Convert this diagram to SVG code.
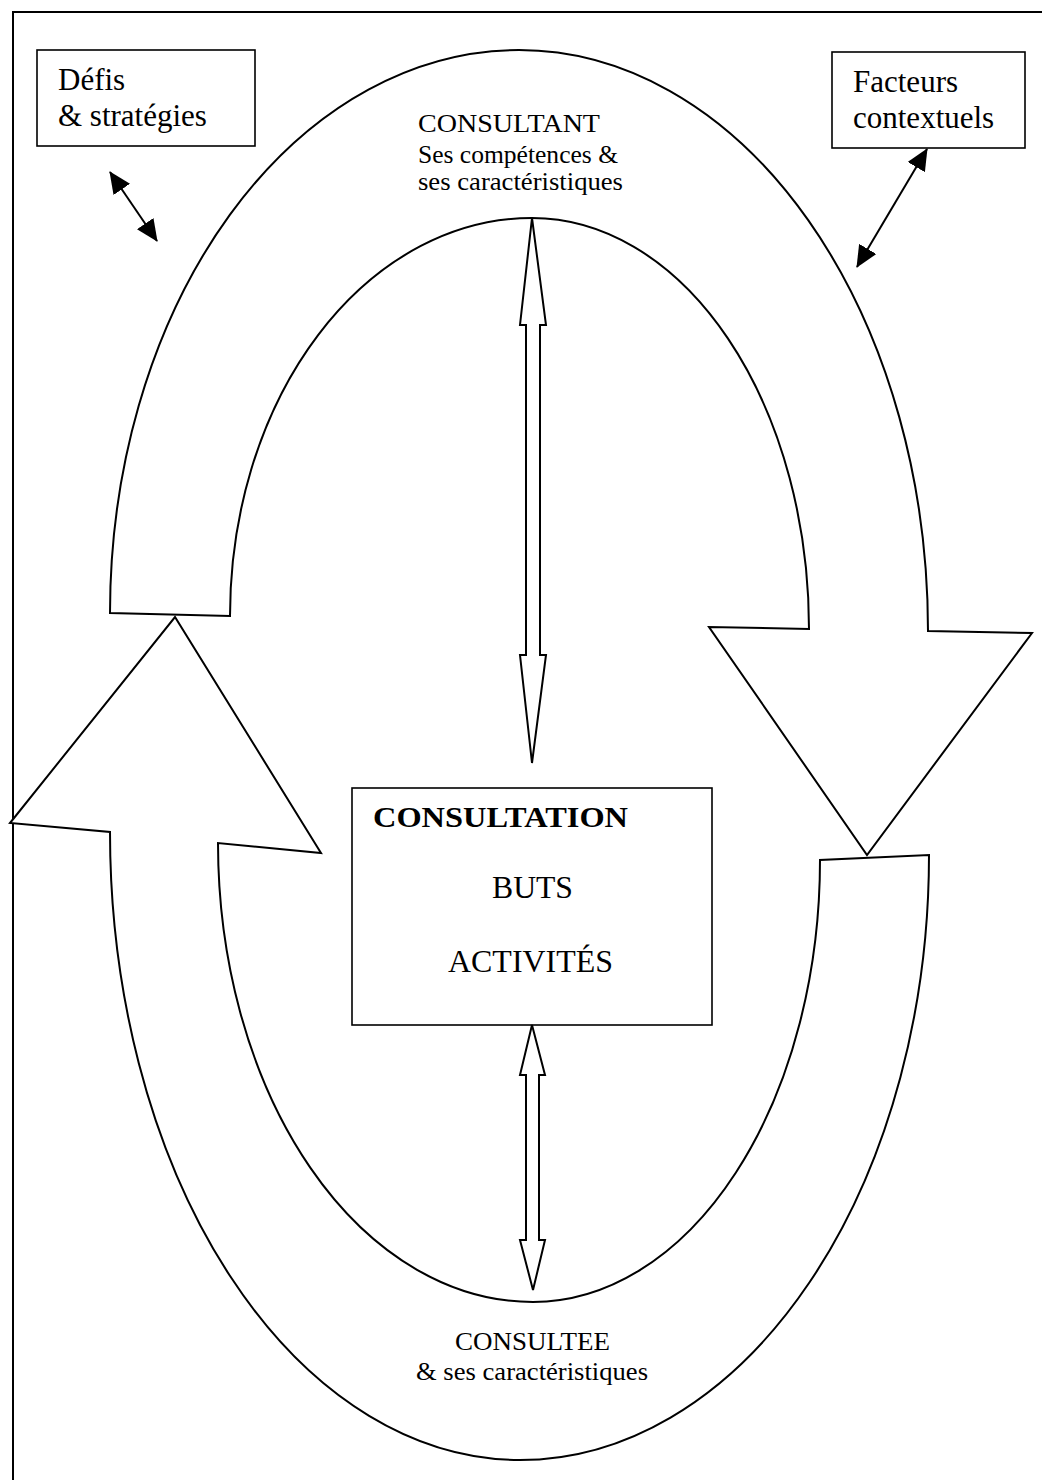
<svg xmlns="http://www.w3.org/2000/svg" width="1042" height="1480" viewBox="0 0 1042 1480">
  <style>
    .shape { fill: #ffffff; stroke: #000000; stroke-width: 2; stroke-linejoin: miter; }
    .box { fill: #ffffff; stroke: #000000; stroke-width: 1.6; }
    .t { font-family: "Liberation Serif", "Times New Roman", serif; fill: #000000; }
    .lbl { font-size: 31px; }
    .mid { font-size: 25px; }
    .ctr { font-size: 31px; }
    .link { stroke: #000000; stroke-width: 2; fill: none; }
    .hollow { fill: #ffffff; stroke: #000000; stroke-width: 2; stroke-linejoin: miter; }
  </style>
  <defs>
    <marker id="head" viewBox="0 0 22 20" refX="21" refY="10" markerWidth="22" markerHeight="20" markerUnits="userSpaceOnUse" orient="auto-start-reverse">
      <path d="M0,0 L22,10 L0,20 Z" fill="#000000"/>
    </marker>
  </defs>

  <rect x="0" y="0" width="1042" height="1480" fill="#ffffff"/>

  <!-- page frame -->
  <path d="M13,1480 V12 H1042" fill="none" stroke="#000000" stroke-width="2"/>

  <!-- top curved arrow: consultant -->
  <g id="consultant">
    <path class="shape" d="M110,613 A409,563 0 0 1 519,50 A409,581 0 0 1 928,631 L1032,633 L867,855 L709,627 L809,629 A277,411 0 0 0 532,218 A302,398 0 0 0 230,616 Z"/>
    <text class="t mid" x="418" y="132" textLength="182" lengthAdjust="spacingAndGlyphs">CONSULTANT</text>
    <text class="t mid" x="418" y="163" textLength="200" lengthAdjust="spacingAndGlyphs">Ses compétences &amp;</text>
    <text class="t mid" x="418" y="190" textLength="205" lengthAdjust="spacingAndGlyphs">ses caractéristiques</text>
  </g>

  <!-- bottom curved arrow: consultee -->
  <g id="consultee">
    <path class="shape" d="M929,855 A409,605 0 0 1 520,1460 A410,628 0 0 1 110,832 L10,823 L175,617 L321,853 L218,843 A315,459 0 0 0 533,1302 A287,442 0 0 0 820,860 Z"/>
    <text class="t" font-size="26" x="455" y="1350" textLength="155" lengthAdjust="spacingAndGlyphs">CONSULTEE</text>
    <text class="t" font-size="26" x="416" y="1380" textLength="232" lengthAdjust="spacingAndGlyphs">&amp; ses caractéristiques</text>
  </g>

  <!-- Défis & stratégies -->
  <g id="defis">
    <rect class="box" x="37" y="50" width="218" height="96"/>
    <text class="t lbl" x="58" y="90">Défis</text>
    <text class="t lbl" x="58" y="126">&amp; stratégies</text>
  </g>

  <!-- Facteurs contextuels -->
  <g id="facteurs">
    <rect class="box" x="832" y="52" width="193" height="96"/>
    <text class="t lbl" x="853" y="92">Facteurs</text>
    <text class="t lbl" x="853" y="128">contextuels</text>
  </g>

  <!-- Consultation box -->
  <g id="consultation">
    <rect class="box" x="352" y="788" width="360" height="237" stroke-width="2"/>
    <text class="t" font-size="29" font-weight="bold" x="373" y="827" textLength="255" lengthAdjust="spacingAndGlyphs">CONSULTATION</text>
    <text class="t ctr" x="492" y="898" textLength="81" lengthAdjust="spacingAndGlyphs">BUTS</text>
    <text class="t ctr" x="448" y="972" textLength="165" lengthAdjust="spacingAndGlyphs">ACTIVITÉS</text>
  </g>

  <!-- connectors -->
  <g id="connectors">
    <line class="link" x1="110" y1="172" x2="157" y2="241" marker-start="url(#head)" marker-end="url(#head)"/>
    <line class="link" x1="927" y1="149" x2="857" y2="267" marker-start="url(#head)" marker-end="url(#head)"/>
    <polygon class="hollow" points="532,218 546,325 540,325 540,655 546,655 532,763 520,655 526,655 526,325 520,325"/>
    <polygon class="hollow" points="532,1025 545,1075 539,1075 539,1240 545,1240 533,1290 520,1240 526,1240 526,1075 520,1075"/>
  </g>
</svg>
